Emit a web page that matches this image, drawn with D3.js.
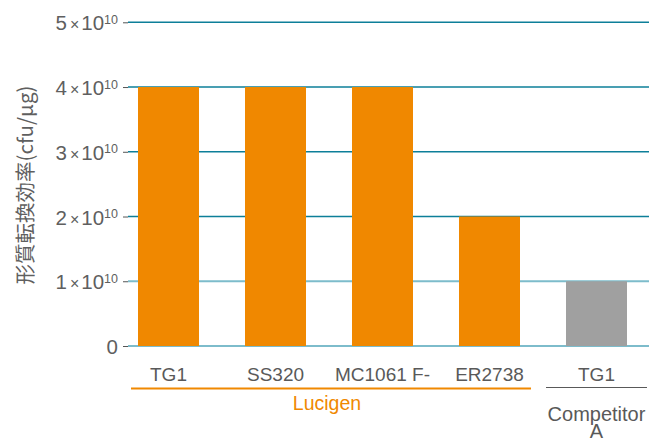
<!DOCTYPE html>
<meta charset="utf-8">
<head>
    <title>形質転換効率</title>
</head>
<style>
    body {
        margin: 0;
        background-color: #ffffff;
        font-family: "Liberation Sans", Arial, sans-serif;
    }

    .tick text {
        fill: #5f5f5f;
    }

    .xlabel {
        font-size: 19px;
        fill: #595959;
    }
</style>
<body>
    <svg width="662" height="438"></svg>
</body>
<script src="https://d3js.org/d3.v7.min.js"></script>
<script>
    // data
    var strains = ["TG1", "SS320", "MC1061 F-", "ER2738", "TG1"];
    var efficiency = [4e10, 4e10, 4e10, 2e10, 1e10];
    var makers = ["Lucigen", "Lucigen", "Lucigen", "Lucigen", "Competitor A"];
    var yTicks = [0, 1e10, 2e10, 3e10, 4e10, 5e10];
    var yTitle = "形質転換効率(cfu/μg)";

    var orange = "#f08800",
        grey = "#a0a0a0";

    var svg = d3.select("svg");

    var data = strains.map(function (s, i) {
        return { id: i, name: s, value: efficiency[i], maker: makers[i] };
    });

    var x = d3.scaleBand()
        .domain(data.map(d => d.id))
        .range([115, 650])
        .paddingInner(0.43)
        .paddingOuter(0.215);

    var y = d3.scaleLinear()
        .domain([0, 5e10])
        .range([346, 22.3]);

    // gridlines
    svg.append("g")
        .selectAll("line")
        .data(yTicks)
        .enter()
        .append("line")
        .attr("x1", 128)
        .attr("x2", 649)
        .attr("y1", d => y(d))
        .attr("y2", d => y(d))
        .attr("stroke", d => d >= 2e10 ? "#0d7f99" : "#7dbccb")
        .attr("stroke-width", d => d >= 2e10 ? 1.5 : 2);

    // y axis ticks + labels
    var yAxis = svg.append("g")
        .attr("transform", "translate(128,0)")
        .call(d3.axisLeft(y).tickValues(yTicks).tickSize(5).tickFormat(""));

    yAxis.select(".domain").remove();
    yAxis.selectAll(".tick line").attr("stroke", "#555555");

    var lab = yAxis.selectAll(".tick")
        .append("text")
        .attr("x", -10)
        .attr("y", 7.5)
        .attr("text-anchor", "end")
        .style("font-size", "20.5px");

    lab.each(function (d) {
        var t = d3.select(this);
        if (d === 0) {
            t.text("0");
            return;
        }
        var m = d / 1e10;
        t.append("tspan").text(m);
        t.append("tspan").style("font-size", "16px").attr("dx", 3).text("×");
        t.append("tspan").attr("dx", 2).text("10");
        t.append("tspan").attr("dy", -6.5).style("font-size", "12.5px").text("10");
    });

    // bars
    svg.append("g")
        .selectAll("rect")
        .data(data)
        .enter()
        .append("rect")
        .attr("x", d => x(d.id))
        .attr("width", x.bandwidth())
        .attr("y", d => y(d.value))
        .attr("height", d => y(0) - y(d.value))
        .attr("fill", d => d.maker === "Lucigen" ? orange : grey);

    // strain labels
    svg.append("g")
        .selectAll("text")
        .data(data)
        .enter()
        .append("text")
        .attr("class", "xlabel")
        .attr("x", d => x(d.id) + x.bandwidth() / 2)
        .attr("y", 381)
        .attr("text-anchor", "middle")
        .text(d => d.name);

    // maker groups
    var luc = data.filter(d => d.maker === "Lucigen");
    var lx1 = x(luc[0].id) - 7,
        lx2 = x(luc[luc.length - 1].id) + x.bandwidth() + 11;

    svg.append("line")
        .attr("x1", lx1).attr("x2", lx2)
        .attr("y1", 388.5).attr("y2", 388.5)
        .attr("stroke", orange)
        .attr("stroke-width", 2);

    svg.append("text")
        .attr("x", (lx1 + lx2) / 2 - 4)
        .attr("y", 410)
        .attr("text-anchor", "middle")
        .style("font-size", "19.5px")
        .attr("fill", orange)
        .text("Lucigen");

    var comp = data.filter(d => d.maker !== "Lucigen");
    var cx1 = x(comp[0].id) - 20,
        cx2 = x(comp[0].id) + x.bandwidth() + 20;

    svg.append("line")
        .attr("x1", cx1).attr("x2", cx2)
        .attr("y1", 387.5).attr("y2", 387.5)
        .attr("stroke", "#595959")
        .attr("stroke-width", 1);

    var ct = svg.append("text")
        .attr("class", "xlabel")
        .style("font-size", "20px")
        .attr("text-anchor", "middle")
        .attr("y", 421);

    comp[0].maker.split(" ").forEach(function (w, i) {
        ct.append("tspan")
            .attr("x", (cx1 + cx2) / 2)
            .attr("dy", i == 0 ? 0 : 16.5)
            .text(w);
    });

    // y title
    svg.append("text")
        .attr("transform", "translate(33,185) rotate(-90)")
        .attr("text-anchor", "middle")
        .style("font-family", "'Noto Sans CJK JP', 'Liberation Sans', sans-serif")
        .style("font-size", "20.5px")
        .attr("fill", "#5f5f5f")
        .text(yTitle);
</script>
